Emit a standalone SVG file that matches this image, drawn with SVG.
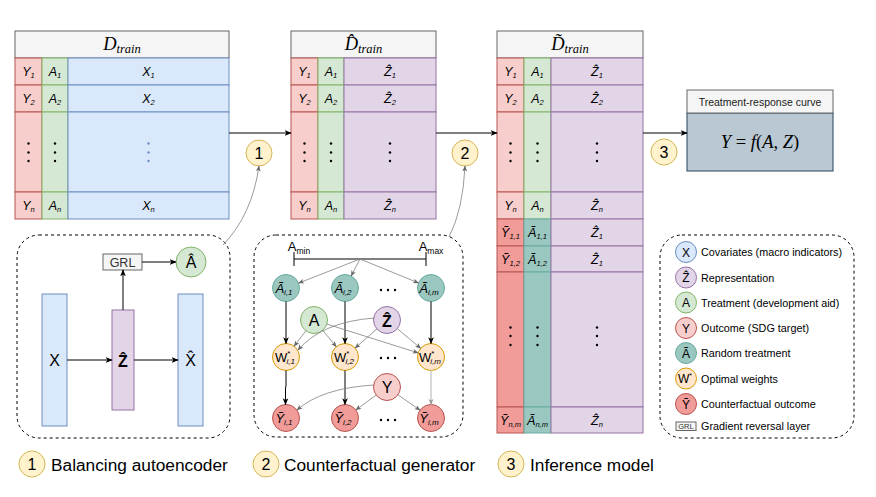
<svg xmlns="http://www.w3.org/2000/svg" width="876" height="497" viewBox="0 0 876 497">
<defs>
<style>
.ct{font-family:"Liberation Sans",Arial,sans-serif;font-style:italic;font-size:12.5px;text-anchor:middle;fill:#000}
.sb{font-size:7.5px}
.hd{font-family:"Liberation Serif","DejaVu Serif",serif;font-style:italic;font-size:18.5px;text-anchor:middle;fill:#000}
.hs{font-size:12.5px}
.hdr{fill:#f5f5f5;stroke:#666666;stroke-width:1}
.r{fill:#f8cecc;stroke:#b85450;stroke-width:1}
.g{fill:#d5e8d4;stroke:#82b366;stroke-width:1}
.b{fill:#dae8fc;stroke:#6c8ebf;stroke-width:1}
.p{fill:#e1d5e7;stroke:#9673a6;stroke-width:1}
.dr{fill:#f19c99;stroke:#b85450;stroke-width:1}
.tl{fill:#9ac7bf;stroke:#67ab9f;stroke-width:1}
.o{fill:#ffe6cc;stroke:#d79b00;stroke-width:1}
.y{fill:#fff2cc;stroke:#d6b656;stroke-width:1}
.dash{fill:none;stroke:#000;stroke-width:1;stroke-dasharray:3,3}
.k{fill:#000}
.kb{fill:#6c8ebf}
.nt{font-family:"Liberation Sans",Arial,sans-serif;font-size:16px;text-anchor:middle;fill:#000}
.lt{font-family:"Liberation Sans",Arial,sans-serif;font-size:10.8px;fill:#000}
.lc{font-family:"Liberation Sans",Arial,sans-serif;font-size:12px;text-anchor:middle;fill:#000}
.bt{font-family:"Liberation Sans",Arial,sans-serif;font-size:17.3px;fill:#000}
.blk{fill:none;stroke:#000;stroke-width:1}
.gry{fill:none;stroke:#808080;stroke-width:0.8}
.cn{font-family:"Liberation Sans",Arial,sans-serif;font-size:13px;text-anchor:middle;fill:#000}
.cs{font-size:8px}
</style>
<marker id="arr" viewBox="0 0 10 10" refX="9" refY="5" markerWidth="7" markerHeight="7" markerUnits="userSpaceOnUse" orient="auto"><path d="M0,1 L10,5 L0,9 L2.5,5 z" fill="#000"/></marker>
<marker id="arrg" viewBox="0 0 10 10" refX="9" refY="5" markerWidth="6" markerHeight="6" markerUnits="userSpaceOnUse" orient="auto"><path d="M0,1 L10,5 L0,9 L2.5,5 z" fill="#666"/></marker>
<marker id="arrl" viewBox="0 0 10 10" refX="9" refY="5" markerWidth="6" markerHeight="6" markerUnits="userSpaceOnUse" orient="auto"><path d="M0,1 L10,5 L0,9 L2.5,5 z" fill="#999"/></marker>
</defs>
<rect x="0" y="0" width="876" height="497" fill="#ffffff"/>

<!-- Table 1 -->
<g id="d-train">
<rect class="hdr" x="15" y="31" width="214" height="27"/>
<text class="hd" x="122" y="50">D<tspan class="hs" dy="3">train</tspan></text>
<rect class="r" x="15" y="58" width="27" height="27"/><rect class="g" x="42" y="58" width="26" height="27"/><rect class="b" x="68" y="58" width="161" height="27"/>
<rect class="r" x="15" y="85" width="27" height="27"/><rect class="g" x="42" y="85" width="26" height="27"/><rect class="b" x="68" y="85" width="161" height="27"/>
<rect class="r" x="15" y="112" width="27" height="80"/><rect class="g" x="42" y="112" width="26" height="80"/><rect class="b" x="68" y="112" width="161" height="80"/>
<rect class="r" x="15" y="192" width="27" height="27"/><rect class="g" x="42" y="192" width="26" height="27"/><rect class="b" x="68" y="192" width="161" height="27"/>
<text class="ct" x="28.5" y="76">Y<tspan class="sb" dy="2">1</tspan></text>
<text class="ct" x="55" y="76">A<tspan class="sb" dy="2">1</tspan></text>
<text class="ct" x="148.5" y="76">X<tspan class="sb" dy="2">1</tspan></text>
<text class="ct" x="28.5" y="103">Y<tspan class="sb" dy="2">2</tspan></text>
<text class="ct" x="55" y="103">A<tspan class="sb" dy="2">2</tspan></text>
<text class="ct" x="148.5" y="103">X<tspan class="sb" dy="2">2</tspan></text>
<text class="ct" x="28.5" y="210">Y<tspan class="sb" dy="2">n</tspan></text>
<text class="ct" x="55" y="210">A<tspan class="sb" dy="2">n</tspan></text>
<text class="ct" x="148.5" y="210">X<tspan class="sb" dy="2">n</tspan></text>
<circle class="k" cx="28.5" cy="143.5" r="1.2"/><circle class="k" cx="28.5" cy="152.5" r="1.2"/><circle class="k" cx="28.5" cy="161" r="1.2"/>
<circle class="k" cx="55" cy="143.5" r="1.2"/><circle class="k" cx="55" cy="152.5" r="1.2"/><circle class="k" cx="55" cy="161" r="1.2"/>
<circle class="kb" cx="148.5" cy="143.5" r="1.2"/><circle class="kb" cx="148.5" cy="152.5" r="1.2"/><circle class="kb" cx="148.5" cy="161" r="1.2"/>
</g>

<!-- Table 2 -->
<g id="d-hat-train">
<rect class="hdr" x="291" y="31" width="145" height="27"/>
<text class="hd" x="363.5" y="50">D̂<tspan class="hs" dy="3">train</tspan></text>
<rect class="r" x="291" y="58" width="27" height="27"/><rect class="g" x="318" y="58" width="26" height="27"/><rect class="p" x="344" y="58" width="92" height="27"/>
<rect class="r" x="291" y="85" width="27" height="27"/><rect class="g" x="318" y="85" width="26" height="27"/><rect class="p" x="344" y="85" width="92" height="27"/>
<rect class="r" x="291" y="112" width="27" height="80"/><rect class="g" x="318" y="112" width="26" height="80"/><rect class="p" x="344" y="112" width="92" height="80"/>
<rect class="r" x="291" y="192" width="27" height="27"/><rect class="g" x="318" y="192" width="26" height="27"/><rect class="p" x="344" y="192" width="92" height="27"/>
<text class="ct" x="304.5" y="76">Y<tspan class="sb" dy="2">1</tspan></text>
<text class="ct" x="331" y="76">A<tspan class="sb" dy="2">1</tspan></text>
<text class="ct" x="390" y="76">Ẑ<tspan class="sb" dy="2">1</tspan></text>
<text class="ct" x="304.5" y="103">Y<tspan class="sb" dy="2">2</tspan></text>
<text class="ct" x="331" y="103">A<tspan class="sb" dy="2">2</tspan></text>
<text class="ct" x="390" y="103">Ẑ<tspan class="sb" dy="2">2</tspan></text>
<text class="ct" x="304.5" y="210">Y<tspan class="sb" dy="2">n</tspan></text>
<text class="ct" x="331" y="210">A<tspan class="sb" dy="2">n</tspan></text>
<text class="ct" x="390" y="210">Ẑ<tspan class="sb" dy="2">n</tspan></text>
<circle class="k" cx="304.5" cy="143.5" r="1.2"/><circle class="k" cx="304.5" cy="152.5" r="1.2"/><circle class="k" cx="304.5" cy="161" r="1.2"/>
<circle class="k" cx="331" cy="143.5" r="1.2"/><circle class="k" cx="331" cy="152.5" r="1.2"/><circle class="k" cx="331" cy="161" r="1.2"/>
<circle class="k" cx="390" cy="143.5" r="1.2"/><circle class="k" cx="390" cy="152.5" r="1.2"/><circle class="k" cx="390" cy="161" r="1.2"/>
</g>

<!-- Table 3 -->
<g id="d-tilde-train">
<rect class="hdr" x="497" y="31" width="146" height="27"/>
<text class="hd" x="570" y="50">D̃<tspan class="hs" dy="3">train</tspan></text>
<rect class="r" x="497" y="58" width="27" height="27"/><rect class="g" x="524" y="58" width="27" height="27"/><rect class="p" x="551" y="58" width="92" height="27"/>
<rect class="r" x="497" y="85" width="27" height="27"/><rect class="g" x="524" y="85" width="27" height="27"/><rect class="p" x="551" y="85" width="92" height="27"/>
<rect class="r" x="497" y="112" width="27" height="80"/><rect class="g" x="524" y="112" width="27" height="80"/><rect class="p" x="551" y="112" width="92" height="80"/>
<rect class="r" x="497" y="192" width="27" height="27"/><rect class="g" x="524" y="192" width="27" height="27"/><rect class="p" x="551" y="192" width="92" height="27"/>
<rect class="dr" x="497" y="219" width="27" height="27"/><rect class="tl" x="524" y="219" width="27" height="27"/><rect class="p" x="551" y="219" width="92" height="27"/>
<rect class="dr" x="497" y="246" width="27" height="26"/><rect class="tl" x="524" y="246" width="27" height="26"/><rect class="p" x="551" y="246" width="92" height="26"/>
<rect class="dr" x="497" y="272" width="27" height="135"/><rect class="tl" x="524" y="272" width="27" height="135"/><rect class="p" x="551" y="272" width="92" height="135"/>
<rect class="dr" x="497" y="407" width="27" height="26"/><rect class="tl" x="524" y="407" width="27" height="26"/><rect class="p" x="551" y="407" width="92" height="26"/>
<text class="ct" x="510.5" y="76">Y<tspan class="sb" dy="2">1</tspan></text>
<text class="ct" x="537.5" y="76">A<tspan class="sb" dy="2">1</tspan></text>
<text class="ct" x="597" y="76">Ẑ<tspan class="sb" dy="2">1</tspan></text>
<text class="ct" x="510.5" y="103">Y<tspan class="sb" dy="2">2</tspan></text>
<text class="ct" x="537.5" y="103">A<tspan class="sb" dy="2">2</tspan></text>
<text class="ct" x="597" y="103">Ẑ<tspan class="sb" dy="2">2</tspan></text>
<text class="ct" x="510.5" y="210">Y<tspan class="sb" dy="2">n</tspan></text>
<text class="ct" x="537.5" y="210">A<tspan class="sb" dy="2">n</tspan></text>
<text class="ct" x="597" y="210">Ẑ<tspan class="sb" dy="2">n</tspan></text>
<text class="ct" x="510.5" y="237">Ỹ<tspan class="sb" dy="2">1,1</tspan></text>
<text class="ct" x="537.5" y="237">Ã<tspan class="sb" dy="2">1,1</tspan></text>
<text class="ct" x="597" y="237">Ẑ<tspan class="sb" dy="2">1</tspan></text>
<text class="ct" x="510.5" y="263.5">Ỹ<tspan class="sb" dy="2">1,2</tspan></text>
<text class="ct" x="537.5" y="263.5">Ã<tspan class="sb" dy="2">1,2</tspan></text>
<text class="ct" x="597" y="263.5">Ẑ<tspan class="sb" dy="2">1</tspan></text>
<text class="ct" x="510.5" y="424.5">Ỹ<tspan class="sb" dy="2">n,m</tspan></text>
<text class="ct" x="537.5" y="424.5">Ã<tspan class="sb" dy="2">n,m</tspan></text>
<text class="ct" x="597" y="424.5">Ẑ<tspan class="sb" dy="2">n</tspan></text>
<circle class="k" cx="510.5" cy="143.5" r="1.2"/><circle class="k" cx="510.5" cy="152.5" r="1.2"/><circle class="k" cx="510.5" cy="161" r="1.2"/>
<circle class="k" cx="537.5" cy="143.5" r="1.2"/><circle class="k" cx="537.5" cy="152.5" r="1.2"/><circle class="k" cx="537.5" cy="161" r="1.2"/>
<circle class="k" cx="597" cy="143.5" r="1.2"/><circle class="k" cx="597" cy="152.5" r="1.2"/><circle class="k" cx="597" cy="161" r="1.2"/>
<circle class="k" cx="510.5" cy="327.5" r="1.2"/><circle class="k" cx="510.5" cy="336" r="1.2"/><circle class="k" cx="510.5" cy="345" r="1.2"/>
<circle class="k" cx="537.5" cy="327.5" r="1.2"/><circle class="k" cx="537.5" cy="336" r="1.2"/><circle class="k" cx="537.5" cy="345" r="1.2"/>
<circle class="k" cx="597" cy="327.5" r="1.2"/><circle class="k" cx="597" cy="336" r="1.2"/><circle class="k" cx="597" cy="345" r="1.2"/>
</g>

<!-- Treatment-response curve -->
<g id="curve">
<rect x="687" y="113" width="146" height="58" fill="#bac8d3" stroke="#23445d" stroke-width="1"/>
<rect class="hdr" x="687" y="90" width="146" height="23"/>
<text x="760" y="105.5" font-family="Liberation Sans, Arial, sans-serif" font-size="10.5" text-anchor="middle" fill="#1a1a1a">Treatment-response curve</text>
<text x="760" y="148" font-family="Liberation Serif, DejaVu Serif, serif" font-size="18.5" text-anchor="middle" fill="#000"><tspan font-style="italic">Y</tspan> = <tspan font-style="italic">f</tspan>(<tspan font-style="italic">A</tspan>, <tspan font-style="italic">Z</tspan>)</text>
</g>

<!-- Step circles -->
<g id="step1"><circle class="y" cx="259" cy="153" r="13"/><text class="nt" x="259" y="159">1</text></g>
<g id="step2"><circle class="y" cx="465" cy="153" r="13"/><text class="nt" x="465" y="159">2</text></g>
<g id="step3"><circle class="y" cx="664" cy="152" r="13"/><text class="nt" x="664" y="158">3</text></g>

<!-- Balancing autoencoder -->
<g id="autoencoder">
<rect class="dash" x="17" y="235" width="213" height="203" rx="22"/>
<g id="ae-x"><rect class="b" x="42" y="294" width="25" height="132"/><text class="nt" x="54.5" y="366">X</text></g>
<g id="ae-z"><rect class="p" x="112" y="310" width="22" height="100"/><text class="nt" x="123" y="367" font-weight="bold">Ẑ</text></g>
<g id="ae-xhat"><rect class="b" x="178" y="294" width="25" height="132"/><text class="nt" x="190.5" y="366">X̂</text></g>
<g id="ae-grl"><rect class="hdr" x="103" y="254" width="39" height="16"/><text x="122.5" y="266.5" font-family="Liberation Sans, Arial, sans-serif" font-size="12.5" text-anchor="middle" fill="#333">GRL</text></g>
<g id="ae-ahat"><circle class="g" cx="191" cy="262" r="15"/><text class="nt" x="191" y="268">Â</text></g>
</g>

<!-- Counterfactual generator -->
<g id="generator">
<rect class="dash" x="254" y="235" width="209" height="202" rx="22"/>
<g id="amin"><text x="299" y="251" font-family="Liberation Sans, Arial, sans-serif" font-size="13" text-anchor="middle">A<tspan font-size="8.5" dy="3">min</tspan></text></g>
<g id="amax"><text x="431" y="251" font-family="Liberation Sans, Arial, sans-serif" font-size="13" text-anchor="middle">A<tspan font-size="8.5" dy="3">max</tspan></text></g>
<g id="at1"><circle class="tl" cx="286" cy="288" r="13.5"/><text class="cn" x="284" y="293" font-style="italic">Ã<tspan class="cs" dy="2">i,1</tspan></text></g>
<g id="at2"><circle class="tl" cx="345" cy="288" r="13.5"/><text class="cn" x="343" y="293" font-style="italic">Ã<tspan class="cs" dy="2">i,2</tspan></text></g>
<g id="atm"><circle class="tl" cx="431" cy="288" r="13.5"/><text class="cn" x="429" y="293" font-style="italic">Ã<tspan class="cs" dy="2">i,m</tspan></text></g>
<g id="g-a"><circle class="g" cx="314" cy="320" r="13.5"/><text class="nt" x="314" y="326">A</text></g>
<g id="g-z"><circle class="p" cx="387" cy="320" r="13.5"/><text class="nt" x="387" y="327" font-weight="bold">Ẑ</text></g>
<g id="w1"><circle class="o" cx="286" cy="357" r="13.5"/><text class="cn" x="285" y="362">W<tspan class="cs" dy="-6">*</tspan><tspan class="cs" font-style="italic" dx="-4" dy="8">i,1</tspan></text></g>
<g id="w2"><circle class="o" cx="345" cy="357" r="13.5"/><text class="cn" x="344" y="362">W<tspan class="cs" dy="-6">*</tspan><tspan class="cs" font-style="italic" dx="-4" dy="8">i,2</tspan></text></g>
<g id="wm"><circle class="o" cx="431" cy="357" r="13.5"/><text class="cn" x="430" y="362">W<tspan class="cs" dy="-6">*</tspan><tspan class="cs" font-style="italic" dx="-4" dy="8">i,m</tspan></text></g>
<g id="g-y"><circle class="r" cx="387" cy="387" r="13.5"/><text class="nt" x="387" y="393">Y</text></g>
<g id="yt1"><circle class="dr" cx="286" cy="418" r="13.5"/><text class="cn" x="284" y="423" font-style="italic">Ỹ<tspan class="cs" dy="2">i,1</tspan></text></g>
<g id="yt2"><circle class="dr" cx="345" cy="418" r="13.5"/><text class="cn" x="343" y="423" font-style="italic">Ỹ<tspan class="cs" dy="2">i,2</tspan></text></g>
<g id="ytm"><circle class="dr" cx="431" cy="418" r="13.5"/><text class="cn" x="429" y="423" font-style="italic">Ỹ<tspan class="cs" dy="2">i,m</tspan></text></g>
<g id="dots">
<circle class="k" cx="381" cy="290" r="1.2"/><circle class="k" cx="388" cy="290" r="1.2"/><circle class="k" cx="395" cy="290" r="1.2"/>
<circle class="k" cx="381" cy="358" r="1.2"/><circle class="k" cx="388" cy="358" r="1.2"/><circle class="k" cx="395" cy="358" r="1.2"/>
<circle class="k" cx="381" cy="420" r="1.2"/><circle class="k" cx="388" cy="420" r="1.2"/><circle class="k" cx="395" cy="420" r="1.2"/>
</g>
</g>

<!-- Legend -->
<g id="legend">
<rect class="dash" x="660" y="235" width="194" height="203" rx="22"/>
<g id="lg-x"><circle class="b" cx="686" cy="252" r="10.5"/><text class="lc" x="686" y="256.5">X</text><text class="lt" x="701" y="256">Covariates (macro indicators)</text></g>
<g id="lg-z"><circle class="p" cx="686" cy="277.5" r="10.5"/><text class="lc" x="686" y="282">Ẑ</text><text class="lt" x="701" y="281.5">Representation</text></g>
<g id="lg-a"><circle class="g" cx="686" cy="302.5" r="10.5"/><text class="lc" x="686" y="307">A</text><text class="lt" x="701" y="306.5">Treatment (development aid)</text></g>
<g id="lg-y"><circle class="r" cx="686" cy="328" r="10.5"/><text class="lc" x="686" y="332.5">Y</text><text class="lt" x="701" y="332">Outcome (SDG target)</text></g>
<g id="lg-at"><circle class="tl" cx="686" cy="353" r="10.5"/><text class="lc" x="686" y="357.5">Ã</text><text class="lt" x="701" y="357">Random treatment</text></g>
<g id="lg-w"><circle class="o" cx="686" cy="378.5" r="10.5"/><text class="lc" x="685" y="383">W<tspan font-size="7" dy="-5">*</tspan></text><text class="lt" x="701" y="382.5">Optimal weights</text></g>
<g id="lg-yt"><circle class="dr" cx="686" cy="404" r="10.5"/><text class="lc" x="686" y="408.5">Ỹ</text><text class="lt" x="701" y="408">Counterfactual outcome</text></g>
<g id="lg-grl"><rect class="hdr" x="676" y="422" width="20" height="8.5"/><text x="686" y="429" font-family="Liberation Sans, Arial, sans-serif" font-size="7.5" text-anchor="middle" fill="#333">GRL</text><text class="lt" x="701" y="430">Gradient reversal layer</text></g>
</g>

<!-- Bottom captions -->
<g id="captions">
<g id="cap1"><circle class="y" cx="32" cy="464" r="13"/><text class="nt" x="32" y="470">1</text><text class="bt" x="51" y="470.5">Balancing autoencoder</text></g>
<g id="cap2"><circle class="y" cx="266" cy="464" r="13"/><text class="nt" x="266" y="470">2</text><text class="bt" x="284" y="470.5">Counterfactual generator</text></g>
<g id="cap3"><circle class="y" cx="511" cy="464" r="13"/><text class="nt" x="511" y="470">3</text><text class="bt" x="530" y="470.5">Inference model</text></g>
</g>

<!-- Connectors -->
<g id="connectors">
<line class="blk" x1="229" y1="133" x2="291" y2="133" marker-end="url(#arr)"/>
<line class="blk" x1="436" y1="133" x2="497" y2="133" marker-end="url(#arr)"/>
<line class="blk" x1="643" y1="133" x2="687" y2="133" marker-end="url(#arr)"/>
<path class="gry" d="M223,245 Q252,215 259,166" marker-end="url(#arrg)"/>
<path class="gry" d="M449,237 Q463,210 465,166" marker-end="url(#arrg)"/>
<line class="blk" x1="123" y1="310" x2="123" y2="270" marker-end="url(#arr)"/>
<line class="blk" x1="142" y1="262" x2="176" y2="262" marker-end="url(#arr)"/>
<line class="blk" x1="67" y1="360" x2="112" y2="360" marker-end="url(#arr)"/>
<line class="blk" x1="134" y1="360" x2="178" y2="360" marker-end="url(#arr)"/>
<line class="blk" x1="294" y1="259" x2="426" y2="259"/>
<line class="blk" x1="294" y1="252" x2="294" y2="266"/>
<line class="blk" x1="426" y1="252" x2="426" y2="266"/>
<line class="gry" x1="360" y1="259" x2="298.6" y2="283.1" marker-end="url(#arrg)"/>
<line class="gry" x1="360" y1="259" x2="351.2" y2="276" marker-end="url(#arrg)"/>
<line class="gry" x1="360" y1="259" x2="418.5" y2="282.9" marker-end="url(#arrg)"/>
<line class="blk" x1="286" y1="301.5" x2="286" y2="343.5" marker-end="url(#arr)"/>
<line class="blk" x1="345" y1="301.5" x2="345" y2="343.5" marker-end="url(#arr)"/>
<line class="blk" x1="431" y1="301.5" x2="431" y2="343.5" marker-end="url(#arr)"/>
<path class="blk" d="M286,370.5 L286,386 L285.5,388 L285.5,404.5" marker-end="url(#arr)"/>
<line class="blk" x1="345" y1="370.5" x2="345" y2="404.5" marker-end="url(#arr)"/>
<line x1="431" y1="370.5" x2="431" y2="404.5" stroke="#cccccc" stroke-width="1.5" marker-end="url(#arrl)"/>
<line class="gry" x1="305.9" y1="330.8" x2="294.1" y2="346.2" marker-end="url(#arrg)"/>
<line class="gry" x1="322.7" y1="330.3" x2="336.3" y2="346.7" marker-end="url(#arrg)"/>
<line class="gry" x1="326.9" y1="324.1" x2="418.1" y2="352.9" marker-end="url(#arrg)"/>
<path class="gry" d="M374,318 Q322,322 298,350" marker-end="url(#arrg)"/>
<line class="gry" x1="376.9" y1="328.9" x2="355.1" y2="348.1" marker-end="url(#arrg)"/>
<line class="gry" x1="397.3" y1="328.7" x2="420.7" y2="348.3" marker-end="url(#arrg)"/>
<path class="gry" d="M374,385 Q322,388 297,410" marker-end="url(#arrg)"/>
<line class="gry" x1="376.1" y1="395" x2="355.9" y2="410" marker-end="url(#arrg)"/>
<line class="gry" x1="398" y1="394.8" x2="420" y2="410.2" marker-end="url(#arrg)"/>
</g>
</svg>
